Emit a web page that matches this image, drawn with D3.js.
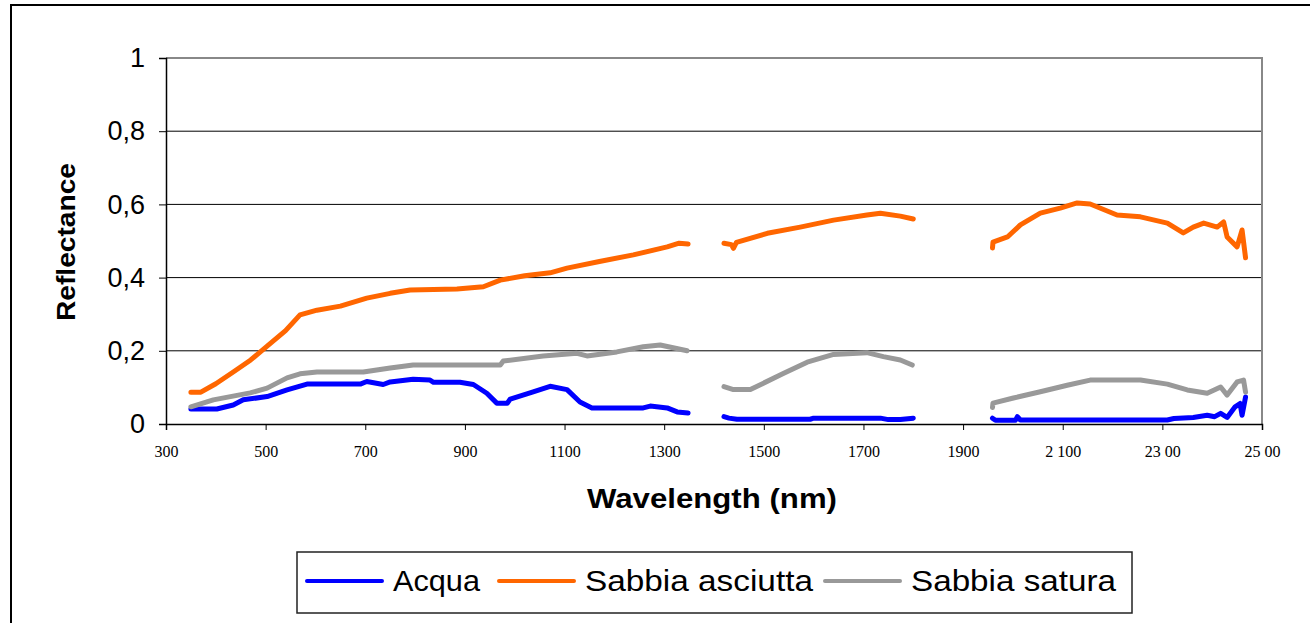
<!DOCTYPE html>
<html lang="it">
<head>
<meta charset="UTF-8">
<title>Reflectance</title>
<script src="https://d3js.org/d3.v7.min.js"></script>
<style>
  body { margin: 0; background: #fff; }
  text { font-family: "Liberation Sans", Arial, sans-serif; }
</style>
</head>
<body>
<script>
// --- data (wavelength nm, reflectance); null = gap
const acqua = [
  [350,0.041],[402,0.041],[435,0.052],[455,0.066],[503,0.075],[543,0.093],[583,0.109],[690,0.109],
  [703,0.116],[736,0.108],[750,0.115],[796,0.122],[830,0.12],[837,0.114],[890,0.114],[917,0.108],
  [944,0.084],[964,0.057],[985,0.057],[991,0.068],[1037,0.088],[1071,0.103],[1105,0.094],[1131,0.06],
  [1155,0.044],[1258,0.044],[1272,0.049],[1306,0.044],[1326,0.033],[1348,0.03], null,
  [1420,0.02],[1430,0.016],[1446,0.013],[1593,0.013],[1600,0.016],[1734,0.016],[1750,0.012],[1774,0.012],[1800,0.016], null,
  [1959,0.016],[1965,0.01],[2005,0.01],[2009,0.02],[2015,0.011],[2310,0.011],[2323,0.015],[2362,0.018],
  [2390,0.024],[2405,0.02],[2417,0.029],[2430,0.018],[2446,0.047],[2456,0.056],[2460,0.024],[2467,0.074]
];
const sabbiaAsciutta = [
  [350,0.087],[370,0.087],[400,0.11],[435,0.142],[470,0.175],[503,0.213],[540,0.255],[569,0.298],
  [603,0.311],[650,0.322],[703,0.344],[750,0.357],[790,0.366],[884,0.369],[937,0.375],[971,0.393],
  [1020,0.405],[1071,0.413],[1105,0.426],[1170,0.444],[1238,0.462],[1306,0.484],[1330,0.494],[1348,0.492], null,
  [1420,0.494],[1435,0.49],[1439,0.48],[1445,0.496],[1507,0.521],[1573,0.538],[1640,0.557],[1707,0.571],
  [1734,0.576],[1774,0.568],[1800,0.56], null,
  [1959,0.481],[1960,0.497],[1989,0.511],[2015,0.544],[2055,0.576],[2095,0.59],[2129,0.604],[2155,0.601],
  [2209,0.571],[2256,0.566],[2310,0.549],[2342,0.522],[2362,0.538],[2383,0.549],[2410,0.538],[2423,0.552],
  [2430,0.511],[2450,0.484],[2460,0.53],[2467,0.454]
];
const sabbiaSatura = [
  [350,0.047],[395,0.066],[469,0.085],[503,0.098],[543,0.126],[569,0.137],[603,0.142],[696,0.142],
  [750,0.153],[796,0.161],[971,0.161],[977,0.172],[1057,0.186],[1125,0.193],[1145,0.186],[1205,0.197],
  [1258,0.211],[1292,0.216],[1346,0.2], null,
  [1420,0.102],[1439,0.094],[1473,0.094],[1539,0.138],[1587,0.169],[1640,0.19],[1707,0.195],[1740,0.184],
  [1774,0.175],[1798,0.161], null,
  [1959,0.045],[1960,0.057],[2001,0.071],[2055,0.088],[2109,0.106],[2155,0.12],[2256,0.12],[2310,0.109],
  [2350,0.093],[2390,0.084],[2417,0.101],[2430,0.079],[2450,0.115],[2463,0.12],[2467,0.087]
];

const seriesNames = ["Acqua", "Sabbia asciutta", "Sabbia satura"];
const seriesColors = ["#0000ff", "#ff6600", "#999999"];
const xTicks = [300,500,700,900,1100,1300,1500,1700,1900,2100,2300,2500];
const xTickLabels = ["300","500","700","900","1100","1300","1500","1700","1900","2 100","23 00","25 00"];
const yTicks = [0,0.2,0.4,0.6,0.8,1];
const yTickLabels = ["0","0,2","0,4","0,6","0,8","1"];

const W = 1310, H = 623;
const plotL = 166, plotR = 1262, plotT = 58, plotB = 424;

const svg = d3.select("body").append("svg").attr("width", W).attr("height", H);

// outer chart frame
svg.append("rect").attr("x", 11).attr("y", 5).attr("width", W + 20).attr("height", H + 20)
  .attr("fill", "none").attr("stroke", "#000").attr("stroke-width", 2);

const x = d3.scaleLinear().domain([300, 2500]).range([plotL, plotR]);
const y = d3.scaleLinear().domain([0, 1]).range([plotB, plotT]);

// gridlines
svg.append("g").selectAll("line").data(yTicks.filter(d => d > 0 && d < 1)).join("line")
  .attr("x1", plotL).attr("x2", plotR).attr("y1", d => y(d)).attr("y2", d => y(d))
  .attr("stroke", "#000").attr("stroke-width", 1);

// plot border top/right
svg.append("path").attr("d", `M${plotL},${plotT}H${plotR}V${plotB}`)
  .attr("fill", "none").attr("stroke", "#888").attr("stroke-width", 2);

// axes
const yAxis = svg.append("g").attr("transform", `translate(${plotL},0)`)
  .call(d3.axisLeft(y).tickValues(yTicks).tickSize(7).tickPadding(14)
    .tickFormat((d, i) => yTickLabels[i]));
yAxis.selectAll("text").attr("font-size", 27).attr("fill", "#000");

const xAxis = svg.append("g").attr("transform", `translate(0,${plotB})`)
  .call(d3.axisBottom(x).tickValues(xTicks).tickSize(6).tickPadding(16)
    .tickFormat((d, i) => xTickLabels[i]));
xAxis.selectAll("text").attr("font-size", 16).attr("fill", "#000")
  .style("font-family", "'Liberation Serif', 'Times New Roman', serif");
svg.selectAll(".domain").attr("stroke", "#000").attr("stroke-width", 1.5);
svg.selectAll(".tick line").attr("stroke", "#000");

// axis titles
svg.append("text").attr("transform", "translate(75,242) rotate(-90)")
  .attr("text-anchor", "middle").attr("font-size", 26).attr("font-weight", "bold")
  .attr("textLength", 158).attr("lengthAdjust", "spacingAndGlyphs")
  .text("Reflectance");
svg.append("text").attr("x", 712).attr("y", 508)
  .attr("text-anchor", "middle").attr("font-size", 27).attr("font-weight", "bold")
  .attr("textLength", 250).attr("lengthAdjust", "spacingAndGlyphs")
  .text("Wavelength (nm)");

// series
const line = d3.line().defined(d => d !== null).x(d => x(d[0])).y(d => y(d[1]));
[acqua, sabbiaAsciutta, sabbiaSatura].forEach((data, i) => {
  svg.append("path").datum(data).attr("d", line)
    .attr("fill", "none").attr("stroke", seriesColors[i]).attr("stroke-width", 5)
    .attr("stroke-linejoin", "round").attr("stroke-linecap", "round");
});

// legend
const legend = svg.append("g");
legend.append("rect").attr("x", 297).attr("y", 552).attr("width", 835).attr("height", 61)
  .attr("fill", "#fff").attr("stroke", "#222").attr("stroke-width", 1.5);
const legendX = [307, 499, 825];
const legendTextW = [87, 228, 205];
seriesNames.forEach((name, i) => {
  legend.append("line").attr("x1", legendX[i]).attr("x2", legendX[i] + 75)
    .attr("y1", 581).attr("y2", 581)
    .attr("stroke", seriesColors[i]).attr("stroke-width", 4).attr("stroke-linecap", "round");
  legend.append("text").attr("x", legendX[i] + 86).attr("y", 591)
    .attr("font-size", 29).attr("textLength", legendTextW[i]).attr("lengthAdjust", "spacingAndGlyphs")
    .text(name);
});
</script>
</body>
</html>
